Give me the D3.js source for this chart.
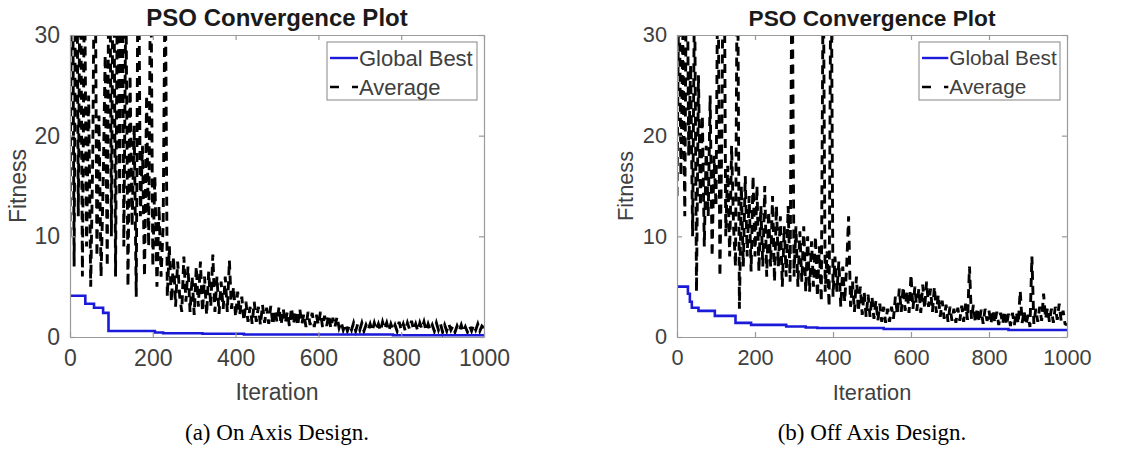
<!DOCTYPE html>
<html>
<head>
<meta charset="utf-8">
<script src="https://d3js.org/d3.v7.min.js"></script>
<style>
body { margin: 0; background: #fff; }
</style>
</head>
<body>
<div id="viz"></div>
<script>
var plotTitle = "PSO Convergence Plot";
var seriesNames = ["Global Best", "Average"];
var captions = ["(a) On Axis Design.", "(b) Off Axis Design."];
var iterTicks = [0, 200, 400, 600, 800, 1000];
var fitTicks = [0, 10, 20, 30];
var avgStep = 5; // average fitness is read every 5 iterations

// global best fitness: [iteration, value] where it steps down
var bestOnAxis = [[0, 4.1], [37, 3.3], [58, 2.9], [80, 2.4], [93, 0.6], [205, 0.45], [225, 0.38],
    [320, 0.32], [420, 0.25], [780, 0.18], [1000, 0.18]];
var bestOffAxis = [[0, 5.0], [28, 4.3], [33, 3.5], [38, 2.9], [55, 2.6], [97, 2.1], [150, 1.4],
    [190, 1.2], [280, 1.05], [330, 0.95], [360, 0.9], [530, 0.8], [850, 0.7], [1000, 0.7]];

// average fitness, iterations 0,5,10,...,1000 (one row = 50 iterations)
var avgOnAxis = [
    10, 48, 7, 55, 12, 42, 6, 38, 9, 24,
    5, 18, 45, 8, 22, 6, 15, 28, 7, 50,
    10, 46, 6, 40, 14, 52, 9, 35, 5, 26,
    11, 21, 4, 44, 12, 19, 6, 24, 9, 40,
    7, 16, 5, 13, 6, 11, 38, 4, 9, 3.5,
    8, 3, 7.5, 4, 2.5, 8, 3.5, 7, 2.5, 6,
    2.2, 7, 3, 7.5, 2.5, 6, 2.2, 6.5, 3, 8.2,
    2.5, 6, 2.3, 5.5, 2.8, 6, 2.5, 7.6, 2.8, 5,
    2, 4.5, 2.2, 4, 1.6, 3.5, 1.5, 3, 1.3, 3.5,
    1.5, 3, 1.2, 3.2, 1.4, 2.9, 1.3, 3.1, 1.2, 2.7,
    1.5, 3, 1.2, 2.8, 1.4, 2.5, 1.1, 2.9, 1.3, 2.6,
    1.1, 2.8, 1.3, 2.3, 1.0, 2.5, 1.2, 2.4, 1.0, 2.2,
    1.2, 2.5, 1.0, 2.1, 1.1, 2.2, 0.9, 1.9, 1.0, 2.0,
    0.9, 1.5, 0.7, 1.3, 0.6, 1.2, 0.7, 1.4, 0.6, 1.3,
    0.7, 1.4, 0.6, 1.2, 0.7, 1.3, 0.6, 1.4, 0.7, 1.3,
    0.6, 1.5, 0.8, 1.4, 0.6, 1.3, 0.7, 1.2, 0.6, 1.5,
    0.7, 1.3, 0.6, 1.4, 0.8, 1.6, 0.7, 1.3, 0.6, 1.4,
    0.8, 1.5, 0.6, 1.3, 0.7, 1.2, 0.6, 1.4, 0.7, 1.3,
    0.5, 1.2, 0.6, 1.3, 0.7, 1.1, 0.5, 1.1, 0.6, 1.2,
    0.5, 1.0, 0.5, 1.1, 0.6, 1.2, 0.7, 1.3, 0.6, 1.1,
    0.9
];
var avgOffAxis = [
    14, 38, 16, 30, 12, 45, 18, 27, 10, 36,
    4.5, 26, 13, 22, 9, 19, 12, 24, 8, 18,
    13, 40, 6, 20, 48, 10, 17, 8, 19, 11,
    7, 42, 2.8, 15, 7, 16, 8, 14, 6.5, 16,
    8, 15, 6.5, 13, 7, 15, 6, 12.5, 7, 14,
    5.5, 13, 7, 12, 5, 11, 6, 13, 5.5, 40,
    6, 11, 5, 10.5, 5.5, 11, 4.5, 10, 4.5, 9.5,
    5, 10, 4, 9, 3.5, 38, 4.5, 8.5, 3, 42,
    4, 8, 4.5, 7.5, 3, 7, 3.5, 7, 12, 3,
    5.5, 2.5, 6, 2.5, 5, 2.2, 4.5, 2, 4.2, 2,
    4, 1.8, 3.6, 1.6, 3.3, 1.5, 3, 1.4, 2.8, 1.5,
    3, 1.8, 4, 2.2, 4.8, 2.5, 5, 2.6, 4.6, 2.4,
    6.2, 2.8, 5, 2.6, 4.8, 2.4, 5.2, 2.8, 5.5, 3,
    4.8, 2.5, 5, 2.4, 4.2, 2, 3.6, 1.8, 3.2, 1.5,
    3, 1.6, 2.8, 1.4, 2.9, 1.6, 3.1, 1.5, 3.3, 1.7,
    7, 1.8, 3.2, 1.4, 2.9, 1.5, 2.7, 1.3, 2.8, 1.6,
    2.6, 1.3, 2.7, 1.4, 2.5, 1.2, 2.4, 1.3, 2.6, 1.2,
    2.3, 1.1, 2.4, 1.2, 2.5, 1.3, 4.6, 1.4, 2.6, 1.2,
    2.2, 1.0, 8, 1.3, 2.8, 1.5, 3, 1.6, 4.3, 1.8,
    2.9, 1.5, 2.8, 1.4, 3, 1.7, 3.3, 1.6, 2.6, 1.3,
    1.2
];

var width = 1129, height = 457;
var plotTop = 35, plotBottom = 337;

var svg = d3.select("#viz")
    .append("svg")
    .attr("width", width)
    .attr("height", height)
    .style("font-family", "'Liberation Sans', Arial, sans-serif");

var panels = [
    {id: "a", left: 70, right: 484, k: 1, best: bestOnAxis, avg: avgOnAxis, legendW: 150, caption: captions[0]},
    {id: "b", left: 677, right: 1067, k: 0.945, best: bestOffAxis, avg: avgOffAxis, legendW: 141, caption: captions[1]}
];

panels.forEach(drawPanel);

function drawPanel(p) {
    var x = d3.scaleLinear().domain([0, 1000]).range([p.left, p.right]);
    var y = d3.scaleLinear().domain([0, 30]).range([plotBottom, plotTop]);
    var g = svg.append("g");
    var axisCol = "#9a9a9a", textCol = "#404040";

    g.append("clipPath").attr("id", "clip-" + p.id)
      .append("rect")
        .attr("x", p.left).attr("y", plotTop)
        .attr("width", p.right - p.left).attr("height", plotBottom - plotTop);

    var plot = g.append("g").attr("clip-path", "url(#clip-" + p.id + ")");

    var avgLine = d3.line()
        .x(function(d, i) { return x(i * avgStep); })
        .y(function(d) { return y(d); });

    plot.append("path")
        .datum(p.avg)
        .attr("d", avgLine)
        .style("fill", "none")
        .style("stroke", "#000")
        .style("stroke-width", 2.9)
        .style("stroke-dasharray", "9,6");

    var bestLine = d3.line()
        .curve(d3.curveStepAfter)
        .x(function(d) { return x(d[0]); })
        .y(function(d) { return y(d[1]); });

    plot.append("path")
        .datum(p.best)
        .attr("d", bestLine)
        .style("fill", "none")
        .style("stroke", "#1a1ad8")
        .style("stroke-width", 2.6);

    // axes box with inward ticks on all sides
    var fs = 23 * p.k;
    var fmt = d3.format("d");
    var xAxis = g.append("g").attr("transform", "translate(0," + plotBottom + ")")
        .call(d3.axisBottom(x).tickValues(iterTicks).tickFormat(fmt).tickSizeInner(-5).tickSizeOuter(0).tickPadding(13));
    var yAxis = g.append("g").attr("transform", "translate(" + p.left + ",0)")
        .call(d3.axisLeft(y).tickValues(fitTicks).tickFormat(fmt).tickSizeInner(-5).tickSizeOuter(0).tickPadding(10));
    g.append("g").attr("transform", "translate(0," + plotTop + ")")
        .call(d3.axisTop(x).tickValues(iterTicks).tickSizeInner(-5).tickSizeOuter(0).tickFormat(""));
    g.append("g").attr("transform", "translate(" + p.right + ",0)")
        .call(d3.axisRight(y).tickValues(fitTicks).tickSizeInner(-5).tickSizeOuter(0).tickFormat(""));

    g.selectAll(".domain, .tick line").style("stroke", axisCol).style("stroke-width", 1.2);
    g.selectAll(".tick text").style("fill", textCol).style("font-size", fs + "px")
        .style("font-family", "'Liberation Sans', Arial, sans-serif");
    xAxis.selectAll(".tick text").attr("dy", "0.71em");

    var cx = (p.left + p.right) / 2;
    g.append("text")
        .attr("x", cx).attr("y", 26)
        .attr("text-anchor", "middle")
        .style("font-size", (24 * p.k) + "px")
        .style("font-weight", "bold")
        .style("fill", "#1a1a1a")
        .text(plotTitle);

    g.append("text")
        .attr("x", cx).attr("y", 400)
        .attr("text-anchor", "middle")
        .style("font-size", fs + "px")
        .style("fill", textCol)
        .text("Iteration");

    g.append("text")
        .attr("transform", "translate(" + (p.left - 44) + "," + ((plotTop + plotBottom) / 2) + ") rotate(-90)")
        .attr("text-anchor", "middle")
        .style("font-size", fs + "px")
        .style("fill", textCol)
        .text("Fitness");

    // legend
    var lx = p.right - 7 - p.legendW, ly = 42;
    var leg = g.append("g");
    leg.append("rect")
        .attr("x", lx).attr("y", ly)
        .attr("width", p.legendW).attr("height", 58)
        .style("fill", "#fff")
        .style("stroke", axisCol)
        .style("stroke-width", 1.2);
    var items = [{c: "#1a1ad8", dash: null}, {c: "#000", dash: "9,13"}];
    items.forEach(function(it, i) {
        var yy = ly + 16 + i * 29;
        leg.append("line")
            .attr("x1", lx + 3).attr("x2", lx + 31 * p.k)
            .attr("y1", yy).attr("y2", yy)
            .style("stroke", it.c)
            .style("stroke-width", 2.4)
            .style("stroke-dasharray", it.dash);
        leg.append("text")
            .attr("x", lx + 32 * p.k).attr("y", yy)
            .attr("dy", "0.35em")
            .style("font-size", (22 * p.k) + "px")
            .style("fill", textCol)
            .text(seriesNames[i]);
    });

    g.append("text")
        .attr("x", cx).attr("y", 440)
        .attr("text-anchor", "middle")
        .style("font-family", "'Liberation Serif', 'Times New Roman', serif")
        .style("font-size", "23px")
        .style("fill", "#000")
        .text(p.caption);
}
</script>
</body>
</html>
